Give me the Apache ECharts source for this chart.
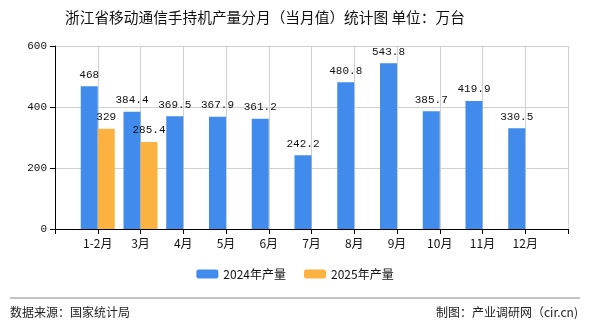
<!DOCTYPE html>
<html><head><meta charset="utf-8">
<script src="https://cdn.jsdelivr.net/npm/echarts@6/dist/echarts.min.js"></script>
<style>html,body{margin:0;padding:0;background:#fff;}#c{width:590px;height:330px;}</style>
</head><body><div id="c"></div>
<script>
const categories = ['1-2月','3月','4月','5月','6月','7月','8月','9月','10月','11月','12月'];
const values2024 = [468,384.4,369.5,367.9,361.2,242.2,480.8,543.8,385.7,419.9,330.5];
const values2025 = [329,285.4,null,null,null,null,null,null,null,null,null];
const yTicks = [0,200,400,600];

const axisData = [''].concat(categories).concat(['']);
const pad = arr => [null].concat(arr).concat([null]);
const cjk = '"Noto Sans CJK SC", sans-serif';
const mono = '"Liberation Mono", "DejaVu Sans Mono", monospace';

const chart = echarts.init(document.getElementById('c'));
chart.setOption({
  animation: false,
  backgroundColor: '#fff',
  title: {
    text: '浙江省移动通信手持机产量分月（当月值）统计图 单位：万台',
    left: 60, top: 5,
    textStyle: {fontFamily: cjk, fontSize: 14.7, fontWeight: 'normal', color: '#111'}
  },
  legend: {
    bottom: 45, left: 'center',
    itemWidth: 22, itemHeight: 9, itemGap: 18,
    textStyle: {fontFamily: cjk, fontSize: 12, color: '#111'},
    data: ['2024年产量','2025年产量']
  },
  grid: {left: 55, right: 22, top: 46, bottom: 101},
  xAxis: {
    type: 'category', data: axisData, boundaryGap: false,
    axisLine: {lineStyle: {color: '#000'}},
    axisTick: {show: true, length: 5, lineStyle: {color: '#000'}},
    axisLabel: {fontFamily: cjk, fontSize: 12, color: '#111', interval: 0, margin: 8},
    splitLine: {show: true, lineStyle: {color: '#d0d0d0'}}
  },
  yAxis: {
    type: 'value', min: yTicks[0], max: yTicks[yTicks.length-1], interval: 200,
    axisLine: {show: true, lineStyle: {color: '#000'}},
    axisTick: {show: true, length: 5, lineStyle: {color: '#000'}},
    axisLabel: {fontFamily: mono, fontSize: 11, color: '#111', margin: 8},
    splitLine: {show: true, lineStyle: {color: '#d0d0d0'}}
  },
  series: [
    {name: '2024年产量', type: 'bar', data: pad(values2024), barWidth: 17, barGap: '0%',
     itemStyle: {color: '#418bec'},
     label: {show: true, position: 'top', distance: 6, fontFamily: mono, fontSize: 11, color: '#111'}},
    {name: '2025年产量', type: 'bar', data: pad(values2025), barWidth: 17, barGap: '0%',
     itemStyle: {color: '#fcb240'},
     label: {show: true, position: 'top', distance: 6, fontFamily: mono, fontSize: 11, color: '#111'}}
  ],
  graphic: [
    {type: 'line', shape: {x1: 10, y1: 298, x2: 580, y2: 298}, style: {stroke: '#888', lineWidth: 1}},
    {type: 'text', left: 10, top: 306, style: {text: '数据来源：国家统计局', font: '12px "Noto Sans CJK SC"', fill: '#222'}},
    {type: 'text', right: 12, top: 306, style: {text: '制图：产业调研网（cir.cn)', font: '12px "Noto Sans CJK SC"', fill: '#222'}}
  ]
});
</script></body></html>
